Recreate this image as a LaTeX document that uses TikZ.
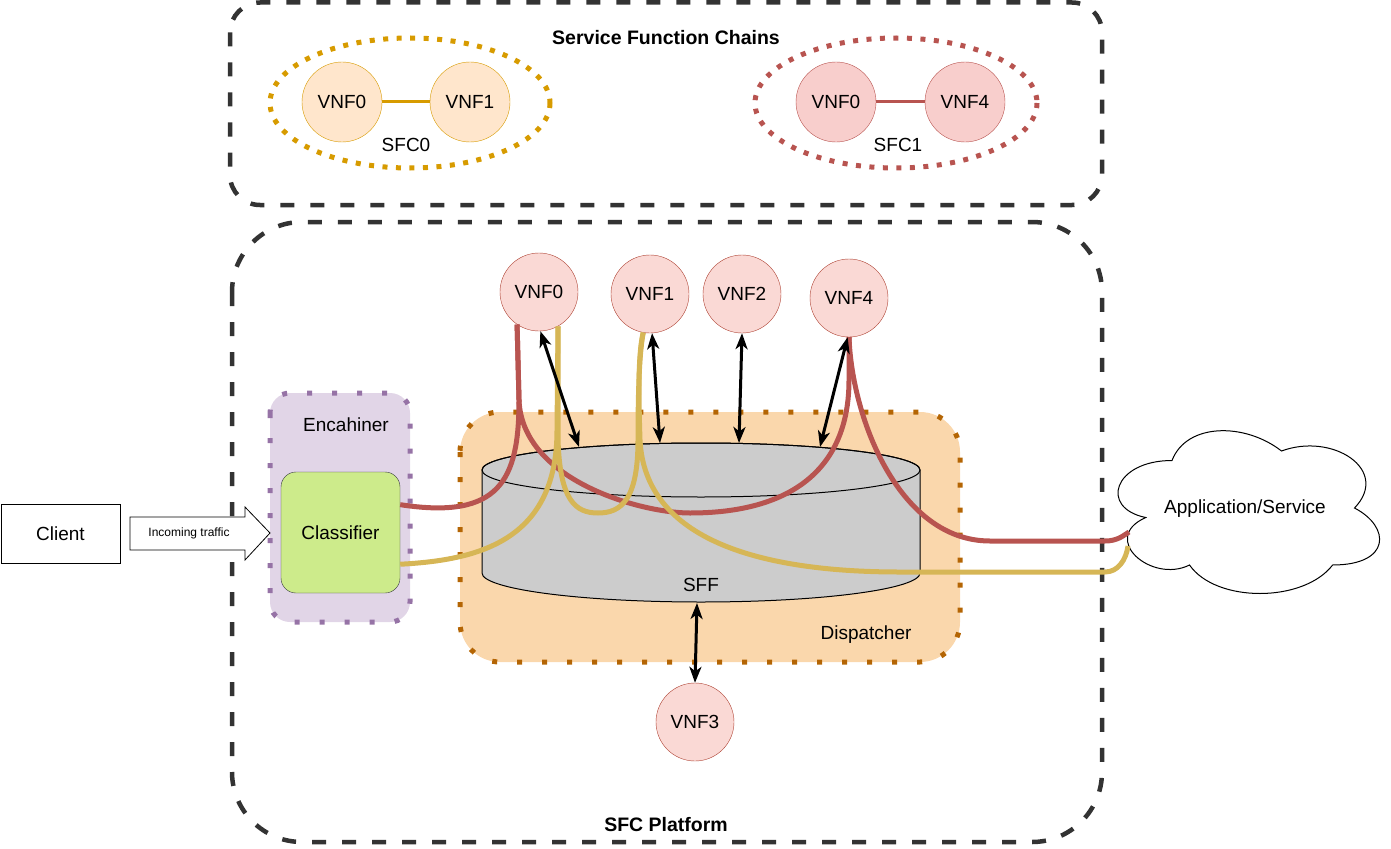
\documentclass[tikz,border=0pt]{standalone}
\usepackage{fontspec}
\setmainfont{Liberation Sans}
\usetikzlibrary{arrows.meta}

\definecolor{boxgray}{HTML}{333333}
\definecolor{orangeline}{HTML}{D79B00}
\definecolor{orangefill}{HTML}{FFE6CC}
\definecolor{redline}{HTML}{B85450}
\definecolor{redfill}{HTML}{F8CECC}
\definecolor{vnfline}{HTML}{AE4132}
\definecolor{vnffill}{HTML}{FAD9D5}
\definecolor{pathyellow}{HTML}{D6B656}
\definecolor{dispfill}{HTML}{FAD7AC}
\definecolor{displine}{HTML}{B46504}
\definecolor{encfill}{HTML}{E1D5E7}
\definecolor{encline}{HTML}{9673A6}
\definecolor{clsfill}{HTML}{CDEB8B}
\definecolor{clsline}{HTML}{36393D}
\definecolor{sffgray}{HTML}{CCCCCC}

\begin{document}
\begin{tikzpicture}[x=1pt, y=-1pt,
    txt/.style={font=\fontsize{19}{22}\selectfont},
    boldtxt/.style={font=\fontsize{19.5}{22}\selectfont\bfseries},
    smalltxt/.style={font=\fontsize{12}{14}\selectfont},
    bigbox/.style={draw=boxgray, line width=4.5pt, dash pattern=on 14pt off 16pt},
    vnf/.style={circle, draw=vnfline, fill=vnffill, minimum size=78pt, inner sep=0pt, txt},
    vnfsfc0/.style={vnf, draw=orangeline, fill=orangefill, minimum size=80pt},
    vnfsfc1/.style={vnf, draw=redline, fill=redfill, minimum size=80pt},
    ring0/.style={draw=orangeline, line width=5pt, dash pattern=on 5pt off 8.5pt},
    ring1/.style={draw=redline, line width=5pt, dash pattern=on 5pt off 8.5pt},
    link0/.style={draw=orangeline, line width=3pt},
    link1/.style={draw=redline, line width=3pt},
    encbox/.style={fill=encfill, draw=encline, line width=5pt, dash pattern=on 5pt off 20pt, rounded corners=20pt},
    dispbox/.style={fill=dispfill, draw=displine, line width=5pt, dash pattern=on 5pt off 20pt, rounded corners=40pt},
    clsbox/.style={draw=clsline, fill=clsfill, rounded corners=15pt, minimum width=119pt, minimum height=121pt, txt},
    redpath/.style={draw=redline, line width=5pt},
    yellowpath/.style={draw=pathyellow, line width=5pt},
    biarrow/.style={line width=3pt, {Stealth[length=16pt,width=12pt,inset=4.5pt]}-{Stealth[length=16pt,width=12pt,inset=4.5pt]}},
    ]

\useasboundingbox (0,0) rectangle (1391,848);

\draw[bigbox, rounded corners=30pt] (230,2.5) rectangle (1102,205);
\draw[bigbox, rounded corners=70pt] (232,222) rectangle (1102,842);
\node[boldtxt] (chains) at (666,38) {Service Function Chains};
\node[boldtxt] (platform) at (666,825) {SFC Platform};

\draw[ring0] (410,103) ellipse[x radius=140, y radius=65];
\draw[ring1] (896,103) ellipse[x radius=141, y radius=65];
\node[vnfsfc0] (s0a) at (342,102) {VNF0};
\node[vnfsfc0] (s0b) at (470,102) {VNF1};
\node[vnfsfc1] (s1a) at (836,102) {VNF0};
\node[vnfsfc1] (s1b) at (965,102) {VNF4};
\draw[link0] (s0a) -- (s0b);
\draw[link1] (s1a) -- (s1b);
\node[txt] (sfc0) at (406,145) {SFC0};
\node[txt] (sfc1) at (898,145) {SFC1};

\draw[encbox] (270,393) rectangle (410,622);
\draw[dispbox] (460,412) rectangle (960,662);
\node[txt] (enc) at (346,425) {Encahiner};
\node[txt] (disp) at (866,635) {Dispatcher};

\filldraw[fill=sffgray, draw=black, line width=1pt] (482,470) -- (482,573)
    arc[start angle=180, end angle=0, x radius=219, y radius=29] -- (920,470)
    arc[start angle=0, end angle=-180, x radius=219, y radius=27] -- cycle;
\draw[line width=1pt] (701,470) ellipse[x radius=219, y radius=27];
\node[txt] (sff) at (701,585) {SFF};
\coordinate (sff0) at (579,447);
\coordinate (sff1) at (660,443);
\coordinate (sff2) at (739,443);
\coordinate (sff4) at (820,447);
\coordinate (sff3) at (697,603);

\node[clsbox] (cls) at (340.5,532.5) {Classifier};
\node[draw, line width=1pt, minimum width=119pt, minimum height=59pt, txt] (client) at (60.5,533.5) {Client};
\draw[fill=white, line width=0.8pt] (130,517) -- (245,517) -- (245,507) -- (270,533)
    -- (245,560) -- (245,550) -- (130,550) -- cycle;
\node[smalltxt] (traffic) at (189,533) {Incoming traffic};

\begin{scope}[shift={(1099,413)}, x=292pt, y=-190pt]
\draw[fill=white, line width=1pt] (0.25,0.25) .. controls (0.05,0.25) and (0,0.5) .. (0.16,0.55)
    .. controls (0,0.66) and (0.18,0.9) .. (0.31,0.8)
    .. controls (0.4,1) and (0.7,1) .. (0.8,0.8)
    .. controls (1,0.8) and (1,0.6) .. (0.875,0.5)
    .. controls (1,0.3) and (0.8,0.1) .. (0.625,0.2)
    .. controls (0.5,0.05) and (0.3,0.05) .. (0.25,0.25) -- cycle;
\end{scope}
\node[txt] (app) at (1245,509) {Application/Service};
\coordinate (appR) at (1129,532);
\coordinate (appY) at (1128,546);

\node[vnf] (p0) at (539,292) {VNF0};
\node[vnf] (p1) at (650,294) {VNF1};
\node[vnf] (p2) at (742,294) {VNF2};
\node[vnf] (p4) at (849,298) {VNF4};
\node[vnf] (p3) at (695,722) {VNF3};

\draw[redpath] (cls.25) .. controls (500,520) and (519,480) .. (519,400) -- (p0.236);
\draw[redpath] (p0.236) -- (519,400) .. controls (522,480) and (640,513) .. (690,513)
    .. controls (790,513) and (849,470) .. (849,380) -- (p4.south);
\draw[redpath] (p4.south) .. controls (852,420) and (900,541) .. (990,541) -- (1105,541)
    .. controls (1118,541) and (1124,535) .. (appR);

\draw[yellowpath] (cls.-28) .. controls (480,560) and (557,540) .. (557,430) -- (p0.299);
\draw[yellowpath] (p0.299) -- (558,440) .. controls (560,500) and (575,513) .. (598,513)
    .. controls (621,513) and (638,500) .. (638,440) .. controls (638,380) and (640,350) .. (p1.260);
\draw[yellowpath] (p1.260) .. controls (639,350) and (638,380) .. (640,440)
    .. controls (645,540) and (760,572) .. (900,572) -- (1105,572)
    .. controls (1118,572) and (1126,560) .. (appY);

\draw[biarrow] (p0.272) -- (sff0);
\draw[biarrow] (p1.273) -- (sff1);
\draw[biarrow] (p2.south) -- (sff2);
\draw[biarrow] (p4.268) -- (sff4);
\draw[biarrow] (sff3) -- (p3.north);
\end{tikzpicture}
\end{document}
